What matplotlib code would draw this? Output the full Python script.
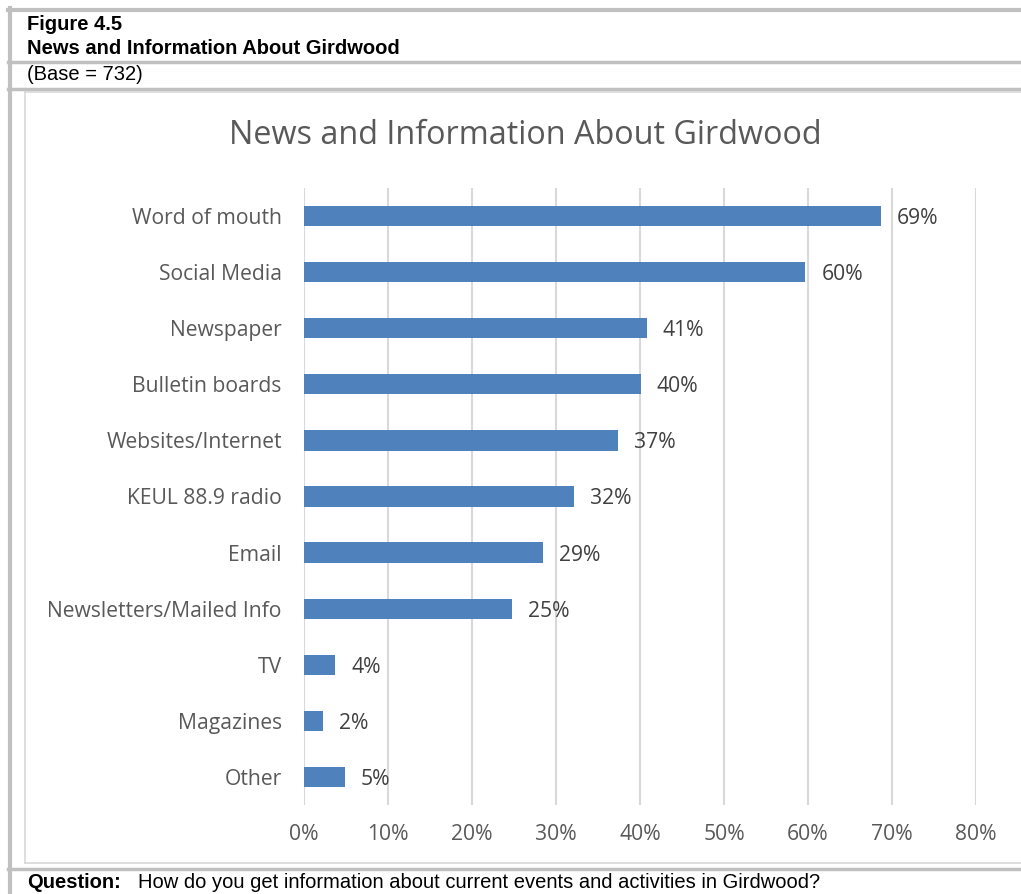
import matplotlib
matplotlib.use("Agg")
import matplotlib.pyplot as plt
from matplotlib.lines import Line2D

# data
categories = ["Word of mouth", "Social Media", "Newspaper", "Bulletin boards",
              "Websites/Internet", "KEUL 88.9 radio", "Email",
              "Newsletters/Mailed Info", "TV", "Magazines", "Other"]
values = [68.7, 59.7, 40.8, 40.1, 37.4, 32.1, 28.5, 24.8, 3.7, 2.3, 4.9]
labels = ["69%", "60%", "41%", "40%", "37%", "32%", "29%", "25%", "4%", "2%", "5%"]
xticks = [0, 10, 20, 30, 40, 50, 60, 70, 80]

W, H = 1021, 894
fig = plt.figure(figsize=(W / 100, H / 100), dpi=100)

def px(x, y):
    return x / W, 1 - y / H

def hline(y, x0, x1, color, lw):
    (a, b), (c, _) = px(x0, y), px(x1, y)
    fig.add_artist(Line2D([a, c], [b, b], color=color, lw=lw, transform=fig.transFigure))

def vline(x, y0, y1, color, lw):
    (a, b), (_, d) = px(x, y0), px(x, y1)
    fig.add_artist(Line2D([a, a], [b, d], color=color, lw=lw, transform=fig.transFigure))

# report-style frame
border = "#c0c0c0"
hline(10, 8, W, border, 3)
hline(62, 8, W, border, 2.5)
hline(89, 8, W, border, 2.5)
hline(869, 8, W, border, 2.5)
vline(10, 8, H, border, 3)
# chart area frame
hline(92, 25, W, "#d9d9d9", 1.2)
hline(863, 25, W, "#d9d9d9", 1.2)
vline(25, 92, 863, "#d9d9d9", 1.2)

hdr = dict(family="Liberation Sans", fontsize=14.5, color="black", va="center", ha="left")
fig.text(*px(27, 25), "Figure 4.5", fontweight="bold", **hdr)
fig.text(*px(27, 48), "News and Information About Girdwood", fontweight="bold", **hdr)
fig.text(*px(27, 75), "(Base = 732)", **hdr)
fig.text(*px(27, 883), "Question:", fontweight="bold", **hdr)
fig.text(*px(138, 883), "How do you get information about current events and activities in Girdwood?", **hdr)

fig.text(*px(525, 136), "News and Information About Girdwood", family="Open Sans",
         fontsize=23.3, color="#595959", ha="center", va="center")

ax = fig.add_axes([304 / W, 1 - 805 / H, (976 - 304) / W, (805 - 188) / H])
y = list(range(len(categories)))
ax.barh(y, values, height=0.36, color="#4f81bd", zorder=3)
for yi, v, lab in zip(y, values, labels):
    ax.text(v + 1.9, yi, lab, va="center_baseline", ha="left", family="Open Sans",
            fontsize=15.2, color="#404040")

ax.set_xlim(0, 80)
ax.set_ylim(len(categories) - 0.5, -0.5)
ax.set_yticks(y)
ax.set_yticklabels(categories, family="Open Sans", fontsize=15.2, color="#595959")
ax.set_xticks(xticks)
ax.set_xticklabels([f"{t}%" for t in xticks], family="Open Sans", fontsize=15.2, color="#595959")
ax.tick_params(length=0)
ax.tick_params(axis="y", pad=16)
ax.tick_params(axis="x", pad=14)
ax.grid(axis="x", color="#d9d9d9", lw=1.5, zorder=0)
for s in ax.spines.values():
    s.set_visible(False)

fig.savefig("out.png", dpi=100)
